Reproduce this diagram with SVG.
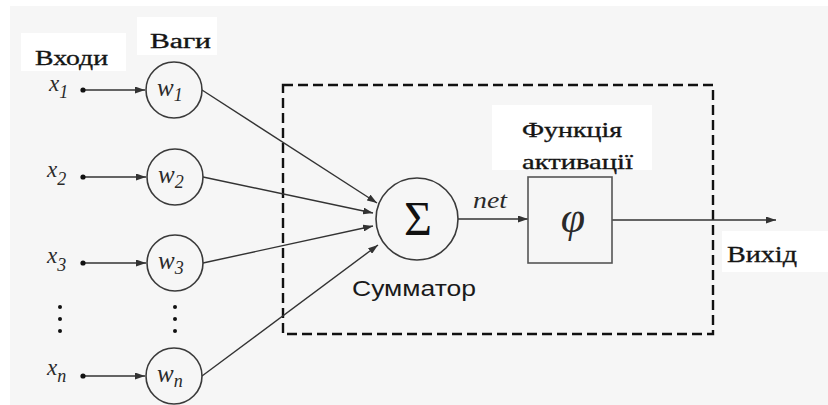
<svg xmlns="http://www.w3.org/2000/svg" width="828" height="405" viewBox="0 0 828 405">
  <style>
    .lbl { font-family: "Liberation Serif", "Times New Roman", serif; fill: #151515; stroke: #151515; stroke-width: 0.35; }
    .sans { font-family: "Liberation Sans", Arial, sans-serif; fill: #1a1a1a; }
    .it { font-family: "Liberation Serif", "Times New Roman", serif; font-style: italic; fill: #2a2a2a; }
    .node { fill: none; stroke: #3a3a3a; stroke-width: 1.6; }
    .edge { fill: none; stroke: #333; stroke-width: 1.4; }
    .dot { fill: #111; }
    .tag { fill: #ffffff; }
  </style>
  <defs>
    <marker id="arrow" viewBox="0 0 10 7" refX="10" refY="3.5" markerWidth="10" markerHeight="7" markerUnits="userSpaceOnUse" orient="auto">
      <path d="M0,0 L10,3.5 L0,7 z" fill="#333"/>
    </marker>
  </defs>

  <!-- canvas -->
  <rect x="0" y="0" width="828" height="405" fill="#ffffff"/>
  <rect x="10" y="6" width="818" height="399" fill="#f6f6f6"/>

  <!-- activation block boundary -->
  <rect x="283" y="85" width="430" height="249" fill="none" stroke="#111" stroke-width="2.4" stroke-dasharray="10 5"/>

  <!-- connectors -->
  <g id="connectors">
    <line class="edge" x1="83" y1="90" x2="145" y2="90" marker-end="url(#arrow)"/>
    <line class="edge" x1="83" y1="177" x2="146" y2="177" marker-end="url(#arrow)"/>
    <line class="edge" x1="83" y1="263" x2="146" y2="263" marker-end="url(#arrow)"/>
    <line class="edge" x1="83" y1="376" x2="145" y2="376" marker-end="url(#arrow)"/>
    <line class="edge" x1="202" y1="90" x2="377" y2="203" marker-end="url(#arrow)"/>
    <line class="edge" x1="203" y1="177" x2="373" y2="213" marker-end="url(#arrow)"/>
    <line class="edge" x1="203" y1="263" x2="373" y2="226" marker-end="url(#arrow)"/>
    <line class="edge" x1="202" y1="376" x2="378" y2="245" marker-end="url(#arrow)"/>
    <line class="edge" x1="458" y1="219" x2="528" y2="219" marker-end="url(#arrow)"/>
    <line class="edge" x1="612" y1="220" x2="776" y2="220" marker-end="url(#arrow)"/>
  </g>

  <!-- inputs -->
  <g id="inputs">
    <circle class="dot" cx="83" cy="90" r="2.6"/>
    <circle class="dot" cx="83" cy="177" r="2.6"/>
    <circle class="dot" cx="83" cy="263" r="2.6"/>
    <circle class="dot" cx="83" cy="376" r="2.6"/>
    <text class="it" x="49" y="91" font-size="23">x<tspan font-size="18" dy="7">1</tspan></text>
    <text class="it" x="47" y="177" font-size="23">x<tspan font-size="18" dy="8">2</tspan></text>
    <text class="it" x="47" y="263" font-size="23">x<tspan font-size="18" dy="8">3</tspan></text>
    <text class="it" x="47" y="375" font-size="23">x<tspan font-size="18" dy="7">n</tspan></text>
    <circle class="dot" cx="60" cy="307" r="2"/>
    <circle class="dot" cx="60" cy="319" r="2"/>
    <circle class="dot" cx="60" cy="331" r="2"/>
  </g>

  <!-- weights -->
  <g id="w1">
    <circle class="node" cx="174" cy="90" r="28"/>
    <text class="it" x="157" y="96" font-size="25">w<tspan font-size="18" dy="5">1</tspan></text>
  </g>
  <g id="w2">
    <circle class="node" cx="175" cy="177" r="28"/>
    <text class="it" x="158" y="183" font-size="25">w<tspan font-size="18" dy="5">2</tspan></text>
  </g>
  <g id="w3">
    <circle class="node" cx="175" cy="263" r="28"/>
    <text class="it" x="158" y="269" font-size="25">w<tspan font-size="18" dy="5">3</tspan></text>
  </g>
  <g id="wn">
    <circle class="node" cx="174" cy="376" r="28"/>
    <text class="it" x="157" y="382" font-size="25">w<tspan font-size="18" dy="5">n</tspan></text>
  </g>
  <g id="w-ellipsis">
    <circle class="dot" cx="175" cy="307" r="2"/>
    <circle class="dot" cx="175" cy="319" r="2"/>
    <circle class="dot" cx="175" cy="331" r="2"/>
  </g>

  <!-- summing junction -->
  <g id="sum">
    <circle class="node" cx="417" cy="219" r="41"/>
    <text x="418" y="235" font-size="48" text-anchor="middle" font-family="Liberation Serif, serif" fill="#111">Σ</text>
    <text class="sans" x="352" y="296" font-size="22" textLength="124" lengthAdjust="spacingAndGlyphs">Сумматор</text>
  </g>

  <text class="it" x="473" y="208" font-size="24" textLength="34" lengthAdjust="spacingAndGlyphs">net</text>

  <!-- activation function -->
  <g id="activation">
    <rect x="528" y="177" width="84" height="86" fill="none" stroke="#555" stroke-width="1.6"/>
    <text class="it" x="573" y="232" font-size="44" text-anchor="middle" fill="#111">φ</text>
    <rect class="tag" x="492" y="105" width="160" height="65"/>
    <text class="lbl" x="522" y="137" font-size="22" textLength="100" lengthAdjust="spacingAndGlyphs">Функція</text>
    <text class="lbl" x="522" y="169" font-size="22" textLength="111" lengthAdjust="spacingAndGlyphs">активації</text>
  </g>

  <!-- captions -->
  <g id="inputs-caption">
    <rect class="tag" x="21" y="33" width="105" height="38"/>
    <text class="lbl" x="35" y="65" font-size="22" textLength="73" lengthAdjust="spacingAndGlyphs">Входи</text>
  </g>
  <g id="weights-caption">
    <rect class="tag" x="137" y="17" width="80" height="38"/>
    <text class="lbl" x="150" y="48" font-size="20" textLength="61" lengthAdjust="spacingAndGlyphs">Ваги</text>
  </g>
  <g id="output-caption">
    <rect class="tag" x="722" y="231" width="106" height="41"/>
    <text class="lbl" x="727" y="262" font-size="24" textLength="70" lengthAdjust="spacingAndGlyphs">Вихід</text>
  </g>
</svg>
